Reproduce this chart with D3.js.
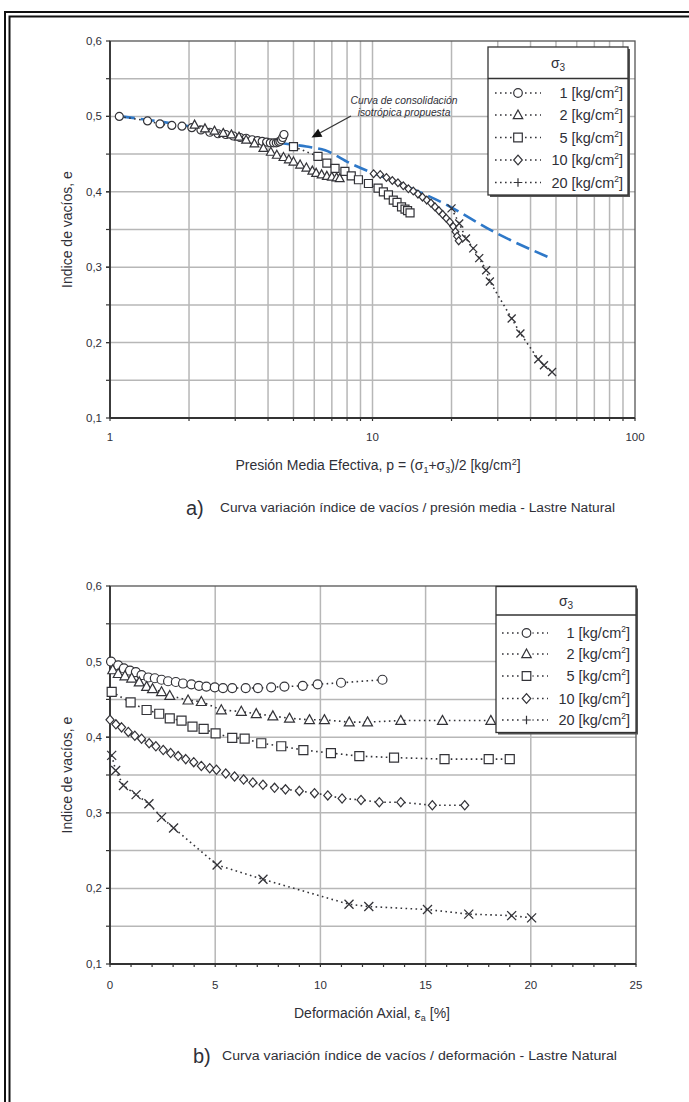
<!DOCTYPE html>
<html>
<head>
<meta charset="utf-8">
<script src="https://cdn.jsdelivr.net/npm/d3@7"></script>
<style>
  body { margin: 0; background: #fff; }
  svg { display: block; }
  text { font-family: "Liberation Sans", Arial, sans-serif; fill: #2f3038; }
</style>
</head>
<body>
<svg id="fig" width="689" height="1102"></svg>
<script>
// ---------- shared series definitions ----------
const sigma3Labels = ["1", "2", "5", "10", "20"];
const markerTypes = ["circle", "triangle", "square", "diamond", "x"];
const legendMarkers = ["circle", "triangle", "square", "diamond", "plus"];

// ---------- panel a: void ratio vs mean effective pressure (log) ----------
const pTicks = [1, 10, 100];
const pMinor = [2, 3, 4, 5, 6, 7, 8, 9, 20, 30, 40, 50, 60, 70, 80, 90];
const eTicks = [0.1, 0.2, 0.3, 0.4, 0.5, 0.6];
const eGrid = [0.15, 0.2, 0.25, 0.3, 0.35, 0.4, 0.45, 0.5, 0.55];

const pA1 = [1.085, 1.39, 1.55, 1.72, 1.88, 2.05, 2.22, 2.4, 2.58, 2.76, 2.95, 3.13, 3.3, 3.48, 3.65, 3.8, 3.95, 4.08, 4.2, 4.3, 4.38, 4.44, 4.5, 4.55, 4.6];
const eA1 = [0.500, 0.494, 0.490, 0.488, 0.487, 0.485, 0.482, 0.479, 0.477, 0.476, 0.474, 0.472, 0.471, 0.469, 0.468, 0.467, 0.466, 0.465, 0.465, 0.465, 0.466, 0.467, 0.469, 0.472, 0.476];

const pA2 = [2.1, 2.3, 2.5, 2.7, 2.9, 3.1, 3.3, 3.55, 3.84, 4.1, 4.32, 4.58, 4.8, 5.0, 5.3, 5.6, 5.9, 6.1, 6.4, 6.7, 7.0, 7.3, 7.5];
const eA2 = [0.489, 0.484, 0.481, 0.478, 0.476, 0.473, 0.469, 0.464, 0.458, 0.453, 0.449, 0.446, 0.443, 0.440, 0.436, 0.432, 0.428, 0.425, 0.423, 0.421, 0.420, 0.419, 0.418];

const pA5 = [5.0, 6.2, 6.7, 7.2, 7.85, 8.3, 8.84, 9.65, 10.5, 11.0, 11.5, 12.0, 12.4, 12.9, 13.3, 13.6, 13.9];
const eA5 = [0.460, 0.447, 0.438, 0.431, 0.427, 0.421, 0.416, 0.411, 0.405, 0.400, 0.396, 0.389, 0.386, 0.380, 0.377, 0.375, 0.372];

const pA10 = [10.1, 10.7, 11.3, 11.9, 12.5, 13.1, 13.7, 14.3, 14.9, 15.5, 16.1, 16.7, 17.3, 17.9, 18.5, 19.1, 19.7, 20.3, 20.7, 21.0, 21.3];
const eA10 = [0.424, 0.423, 0.419, 0.415, 0.412, 0.408, 0.404, 0.401, 0.397, 0.393, 0.389, 0.385, 0.380, 0.375, 0.370, 0.365, 0.360, 0.354, 0.347, 0.341, 0.335];

const pA20 = [20.0, 21.4, 22.7, 24.2, 25.5, 27.1, 28.0, 33.9, 36.6, 42.8, 45.0, 48.3];
const eA20 = [0.378, 0.358, 0.338, 0.325, 0.312, 0.296, 0.281, 0.232, 0.212, 0.178, 0.170, 0.161];

// proposed isotropic consolidation curve
const pIso = [1.1, 2.0, 3.4, 4.6, 5.6, 6.6, 8.2, 12.7, 18.6, 29.7, 47.7];
const eIso = [0.500, 0.487, 0.470, 0.464, 0.460, 0.455, 0.438, 0.411, 0.385, 0.345, 0.312];

// ---------- panel b: void ratio vs axial strain ----------
const strainTicks = [0, 5, 10, 15, 20, 25];
const strainMinor = d3.range(0, 26, 1);

const sB1 = [0.05, 0.39, 0.66, 0.95, 1.23, 1.50, 1.82, 2.13, 2.45, 2.76, 3.13, 3.47, 3.87, 4.23, 4.58, 4.98, 5.37, 5.81, 6.45, 7.03, 7.66, 8.29, 9.16, 9.87, 10.98, 12.95];
const eB1 = [0.500, 0.495, 0.491, 0.488, 0.486, 0.482, 0.479, 0.478, 0.476, 0.474, 0.473, 0.471, 0.470, 0.468, 0.467, 0.466, 0.465, 0.465, 0.465, 0.465, 0.466, 0.467, 0.468, 0.470, 0.472, 0.476];

const sB2 = [0.13, 0.39, 0.71, 1.03, 1.39, 1.74, 2.02, 2.45, 2.84, 3.71, 4.34, 5.29, 6.24, 6.95, 7.74, 8.53, 9.48, 10.19, 11.37, 12.24, 13.82, 15.8, 18.1];
const eB2 = [0.489, 0.484, 0.481, 0.478, 0.473, 0.467, 0.464, 0.460, 0.455, 0.449, 0.447, 0.436, 0.434, 0.431, 0.428, 0.425, 0.423, 0.423, 0.420, 0.420, 0.422, 0.422, 0.422];

const sB5 = [0.08, 0.98, 1.74, 2.34, 2.84, 3.40, 3.92, 4.45, 5.02, 5.81, 6.40, 7.19, 8.14, 9.19, 10.5, 11.85, 13.5, 15.9, 18.0, 19.0];
const eB5 = [0.460, 0.446, 0.436, 0.431, 0.425, 0.422, 0.414, 0.411, 0.405, 0.399, 0.398, 0.392, 0.388, 0.383, 0.379, 0.375, 0.373, 0.371, 0.371, 0.371];

const sB10 = [0, 0.28, 0.55, 0.87, 1.18, 1.50, 1.86, 2.18, 2.53, 2.88, 3.24, 3.60, 3.98, 4.34, 4.74, 5.06, 5.50, 5.92, 6.35, 6.79, 7.27, 7.82, 8.34, 9.0, 9.72, 10.35, 11.03, 11.93, 12.80, 13.82, 15.32, 16.86];
const eB10 = [0.423, 0.417, 0.413, 0.407, 0.402, 0.398, 0.392, 0.388, 0.383, 0.379, 0.375, 0.371, 0.367, 0.362, 0.359, 0.357, 0.352, 0.348, 0.344, 0.340, 0.337, 0.333, 0.331, 0.329, 0.326, 0.323, 0.319, 0.317, 0.314, 0.314, 0.310, 0.310];

const sB20 = [0.08, 0.27, 0.64, 1.24, 1.85, 2.45, 3.02, 5.09, 7.27, 11.36, 12.3, 15.09, 17.05, 19.09, 20.04];
const eB20 = [0.376, 0.356, 0.336, 0.324, 0.312, 0.294, 0.280, 0.231, 0.212, 0.179, 0.176, 0.172, 0.166, 0.164, 0.161];

// ---------- helpers ----------
const svg = d3.select("#fig");
const ink = "#333338";
const gridColor = "#b7b7b7";
const fmtE = d => d.toFixed(1).replace(".", ",");

function markerPath(type, s) {
  switch (type) {
    case "circle": return `M${-s},0A${s},${s} 0 1,0 ${s},0A${s},${s} 0 1,0 ${-s},0Z`;
    case "square": return `M${-s},${-s}H${s}V${s}H${-s}Z`;
    case "triangle": return `M0,${-s * 1.15}L${s * 1.1},${s * 0.85}L${-s * 1.1},${s * 0.85}Z`;
    case "diamond": return `M0,${-s * 1.15}L${s},0L0,${s * 1.15}L${-s},0Z`;
    case "x": return `M${-s},${-s}L${s},${s}M${s},${-s}L${-s},${s}`;
    case "plus": return `M${-s},0H${s}M0,${-s}V${s}`;
  }
}

function drawSeries(g, xs, ys, sx, sy, type, size) {
  const pts = xs.map((v, i) => [sx(v), sy(ys[i])]);
  g.append("path")
    .attr("d", d3.line()(pts))
    .attr("fill", "none")
    .attr("stroke", ink)
    .attr("stroke-width", 1.6)
    .attr("stroke-dasharray", "1.6,3.4");
  g.selectAll(null).data(pts).join("path")
    .attr("transform", d => `translate(${d[0]},${d[1]})`)
    .attr("d", markerPath(type, size))
    .attr("fill", type === "x" ? "none" : "#fff")
    .attr("stroke", ink)
    .attr("stroke-width", type === "x" ? 1.3 : 1.2);
}

function frameAndGrid(g, sx, sy, vGrid, hGrid) {
  const [x0, x1] = sx.range();
  const [y0, y1] = sy.range(); // y0 bottom, y1 top
  g.selectAll(null).data(vGrid).join("line")
    .attr("x1", d => sx(d)).attr("x2", d => sx(d))
    .attr("y1", y1).attr("y2", y0)
    .attr("stroke", gridColor).attr("stroke-width", 1.5);
  g.selectAll(null).data(hGrid).join("line")
    .attr("x1", x0).attr("x2", x1)
    .attr("y1", d => sy(d)).attr("y2", d => sy(d))
    .attr("stroke", gridColor).attr("stroke-width", 1.5);
  g.append("rect")
    .attr("x", x0).attr("y", y1)
    .attr("width", x1 - x0).attr("height", y0 - y1)
    .attr("fill", "none").attr("stroke", "#555").attr("stroke-width", 1.3);
  g.append("line").attr("x1", x0).attr("x2", x0).attr("y1", y1).attr("y2", y0)
    .attr("stroke", "#333").attr("stroke-width", 1.8);
  g.append("line").attr("x1", x0).attr("x2", x1).attr("y1", y0).attr("y2", y0)
    .attr("stroke", "#333").attr("stroke-width", 1.8);
}

function yAxisLabels(g, sy, x0) {
  g.selectAll(null).data(eGrid.concat(eTicks)).join("line")
    .attr("x1", x0 - 4).attr("x2", x0)
    .attr("y1", d => sy(d)).attr("y2", d => sy(d))
    .attr("stroke", "#333").attr("stroke-width", 1.2);
  g.selectAll(null).data(eTicks).join("text")
    .attr("x", x0 - 8).attr("y", d => sy(d) + 4)
    .attr("text-anchor", "end")
    .attr("font-size", 11.5)
    .text(fmtE);
}

function legend(g, x, y, w, h, divY, rowYs, lineX0, lineX1, markX, labelX) {
  g.append("rect").attr("x", x + 2).attr("y", y + 2).attr("width", w).attr("height", h)
    .attr("fill", "#555");
  g.append("rect").attr("x", x).attr("y", y).attr("width", w).attr("height", h)
    .attr("fill", "#fff").attr("stroke", "#333").attr("stroke-width", 1.3);
  g.append("line").attr("x1", x).attr("x2", x + w).attr("y1", divY).attr("y2", divY)
    .attr("stroke", "#333").attr("stroke-width", 1.3);
  const hdr = g.append("text")
    .attr("x", x + w / 2).attr("y", (y + divY) / 2 + 5)
    .attr("text-anchor", "middle").attr("font-size", 14)
    .attr("font-family", "DejaVu Serif, serif");
  hdr.append("tspan").text("σ");
  hdr.append("tspan").attr("font-size", 10).attr("dy", 3).text("3");
  sigma3Labels.forEach((lab, i) => {
    const ry = rowYs[i];
    g.append("line").attr("x1", lineX0).attr("x2", lineX1).attr("y1", ry).attr("y2", ry)
      .attr("stroke", ink).attr("stroke-width", 1.6).attr("stroke-dasharray", "1.6,3.4");
    g.append("rect").attr("x", markX - 6).attr("y", ry - 6).attr("width", 12).attr("height", 12)
      .attr("fill", "#fff");
    g.append("path").attr("transform", `translate(${markX},${ry})`)
      .attr("d", markerPath(legendMarkers[i], 4.3))
      .attr("fill", "#fff").attr("stroke", ink).attr("stroke-width", 1.2);
    const t = g.append("text").attr("x", labelX).attr("y", ry + 5)
      .attr("text-anchor", "end").attr("font-size", 14.5);
    t.append("tspan").text(`${lab} [kg/cm`);
    t.append("tspan").attr("font-size", 8.5).attr("dy", -6).text("2");
    t.append("tspan").attr("dy", 6).text("]");
  });
}

// ---------- outer double frame ----------
svg.append("rect").attr("x", 5).attr("y", 12).attr("width", 720).attr("height", 1120)
  .attr("fill", "none").attr("stroke", "#111").attr("stroke-width", 2);
svg.append("rect").attr("x", 9.5).attr("y", 16.5).attr("width", 720).attr("height", 1120)
  .attr("fill", "none").attr("stroke", "#111").attr("stroke-width", 2);

// ---------- panel a ----------
const xA = d3.scaleLog().domain([1, 100]).range([110, 635]);
const yA = d3.scaleLinear().domain([0.1, 0.6]).range([418, 41]);
const gA = svg.append("g");
frameAndGrid(gA, xA, yA, pMinor.concat([10]), eGrid);
yAxisLabels(gA, yA, 110);
gA.selectAll(null).data(pMinor.concat(pTicks)).join("line")
  .attr("x1", d => xA(d)).attr("x2", d => xA(d))
  .attr("y1", 418).attr("y2", 421)
  .attr("stroke", "#333").attr("stroke-width", 1.2);
gA.selectAll(null).data(pTicks).join("text")
  .attr("x", d => xA(d)).attr("y", 441)
  .attr("text-anchor", "middle").attr("font-size", 11.5)
  .text(d => d);

// isotropic curve (dashed blue)
gA.append("path")
  .attr("d", d3.line().curve(d3.curveMonotoneX)(pIso.map((p, i) => [xA(p), yA(eIso[i])])))
  .attr("fill", "none").attr("stroke", "#2e78c8").attr("stroke-width", 2.6)
  .attr("stroke-dasharray", "14,6");

const seriesA = [[pA1, eA1], [pA2, eA2], [pA5, eA5], [pA10, eA10], [pA20, eA20]];
seriesA.forEach(([xs, ys], i) => drawSeries(gA, xs, ys, xA, yA, markerTypes[i], i === 3 ? 3.4 : 4));

// annotation with arrow
(function () {
  const tail = [351, 116], tip = [311.5, 137.5];
  const dx = tip[0] - tail[0], dy = tip[1] - tail[1], len = Math.hypot(dx, dy);
  const ux = dx / len, uy = dy / len, hl = 10, hw = 4.5;
  const bx = tip[0] - ux * hl, by = tip[1] - uy * hl;
  gA.append("line").attr("x1", tail[0]).attr("y1", tail[1]).attr("x2", bx).attr("y2", by)
    .attr("stroke", "#333").attr("stroke-width", 1.3);
  gA.append("path")
    .attr("d", `M${tip[0]},${tip[1]}L${bx - uy * hw},${by + ux * hw}L${bx + uy * hw},${by - ux * hw}Z`)
    .attr("fill", "#111");
  gA.append("text").attr("x", 404).attr("y", 103.5).attr("text-anchor", "middle")
    .attr("font-size", 10.3).attr("font-style", "italic").text("Curva de consolidación");
  gA.append("text").attr("x", 404).attr("y", 115.5).attr("text-anchor", "middle")
    .attr("font-size", 10.3).attr("font-style", "italic").text("isotrópica propuesta");
})();

legend(gA, 488, 47, 140, 148, 78.5, [93, 115, 137.5, 160, 182.5], 495, 541, 518, 623);

// axis titles panel a
gA.append("text").attr("transform", "translate(72,229.5) rotate(-90)")
  .attr("text-anchor", "middle").attr("font-size", 14).text("Indice de vacíos, e");
(function () {
  const t = gA.append("text").attr("x", 378).attr("y", 470).attr("text-anchor", "middle").attr("font-size", 14);
  t.append("tspan").text("Presión Media Efectiva, p = (σ");
  t.append("tspan").attr("font-size", 9).attr("dy", 3).text("1");
  t.append("tspan").attr("dy", -3).text("+σ");
  t.append("tspan").attr("font-size", 9).attr("dy", 3).text("3");
  t.append("tspan").attr("dy", -3).text(")/2  [kg/cm");
  t.append("tspan").attr("font-size", 9).attr("dy", -5).text("2");
  t.append("tspan").attr("dy", 5).text("]");
})();
gA.append("text").attr("x", 186).attr("y", 515).attr("font-size", 20)
  .attr("font-family", "DejaVu Sans Condensed, DejaVu Sans, sans-serif").text("a)");
gA.append("text").attr("x", 220).attr("y", 512).attr("font-size", 12)
  .attr("textLength", 395).attr("lengthAdjust", "spacingAndGlyphs")
  .text("Curva variación índice de vacíos / presión media - Lastre Natural");

// ---------- panel b ----------
const xB = d3.scaleLinear().domain([0, 25]).range([110, 636]);
const yB = d3.scaleLinear().domain([0.1, 0.6]).range([964, 586]);
const gB = svg.append("g");
frameAndGrid(gB, xB, yB, [5, 10, 15, 20], eGrid);
yAxisLabels(gB, yB, 110);
gB.selectAll(null).data(strainMinor).join("line")
  .attr("x1", d => xB(d)).attr("x2", d => xB(d))
  .attr("y1", 964).attr("y2", 967)
  .attr("stroke", "#333").attr("stroke-width", 1.2);
gB.selectAll(null).data(strainTicks).join("text")
  .attr("x", d => xB(d)).attr("y", 989)
  .attr("text-anchor", "middle").attr("font-size", 11.5)
  .text(d => d);

const seriesB = [[sB1, eB1], [sB2, eB2], [sB5, eB5], [sB10, eB10], [sB20, eB20]];
seriesB.forEach(([xs, ys], i) => drawSeries(gB, xs, ys, xB, yB, markerTypes[i], i === 3 ? 4 : 4.5));

legend(gB, 496, 586.5, 140, 146, 615, [633, 654, 676, 698.5, 720], 502, 548, 526.5, 630);

gB.append("text").attr("transform", "translate(72,775) rotate(-90)")
  .attr("text-anchor", "middle").attr("font-size", 14).text("Indice de vacíos, e");
(function () {
  const t = gB.append("text").attr("x", 372).attr("y", 1018).attr("text-anchor", "middle").attr("font-size", 14);
  t.append("tspan").text("Deformación Axial,  ε");
  t.append("tspan").attr("font-size", 9).attr("dy", 3).text("a");
  t.append("tspan").attr("dy", -3).text(" [%]");
})();
gB.append("text").attr("x", 193).attr("y", 1063).attr("font-size", 20)
  .attr("font-family", "DejaVu Sans Condensed, DejaVu Sans, sans-serif").text("b)");
gB.append("text").attr("x", 222).attr("y", 1060).attr("font-size", 12)
  .attr("textLength", 395).attr("lengthAdjust", "spacingAndGlyphs")
  .text("Curva variación índice de vacíos  / deformación - Lastre Natural");
</script>
</body>
</html>
